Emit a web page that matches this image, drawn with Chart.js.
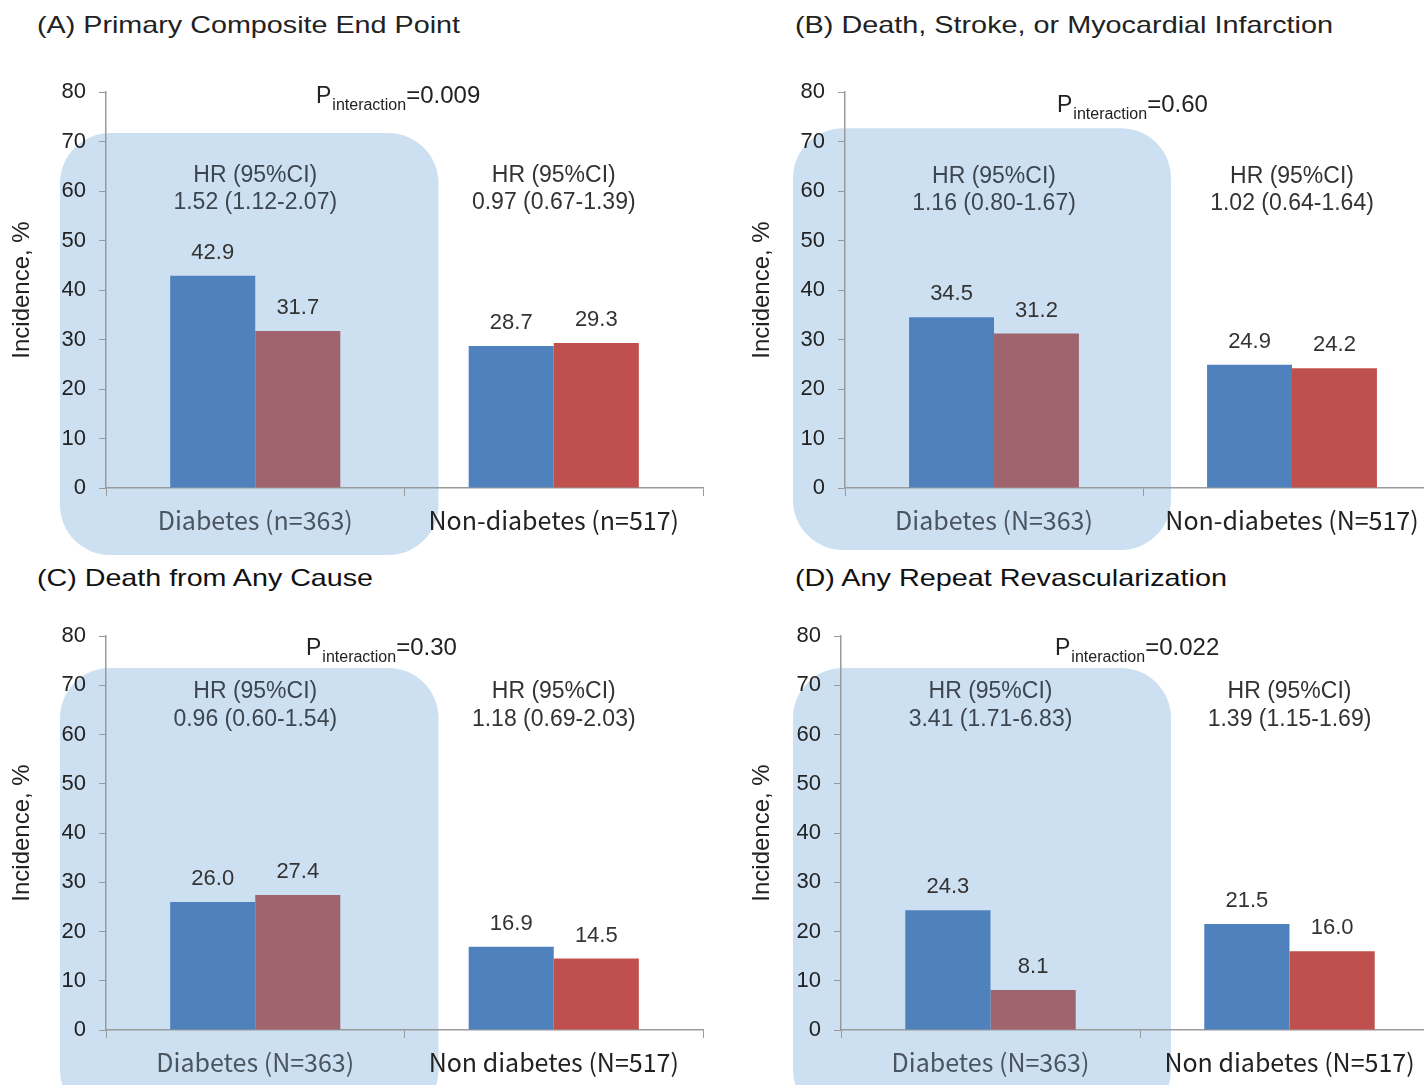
<!DOCTYPE html>
<html><head><meta charset="utf-8">
<script src="https://cdn.jsdelivr.net/npm/chart.js@4/dist/chart.umd.min.js"></script>
<style>
html,body{margin:0;padding:0;background:#fff;width:1424px;height:1085px;overflow:hidden;position:relative}
canvas{position:absolute}
.title{position:absolute;font-family:"Liberation Sans",Arial,sans-serif;font-size:24px;color:#222;white-space:nowrap;transform-origin:0 50%;line-height:24px}
</style></head><body>
<div class="title" id="tA" style="left:37px;top:13px"></div>
<div class="title" id="tB" style="left:795px;top:13px"></div>
<div class="title" id="tC" style="left:37px;top:566px;color:#111"></div>
<div class="title" id="tD" style="left:795px;top:566px;color:#111"></div>
<canvas id="cA" width="740" height="560" style="left:0;top:0"></canvas>
<canvas id="cB" width="720" height="560" style="left:740px;top:0"></canvas>
<canvas id="cC" width="740" height="525" style="left:0;top:560px"></canvas>
<canvas id="cD" width="720" height="525" style="left:740px;top:560px"></canvas>
<script>
// ---- data ----
const titles = ['(A) Primary Composite End Point', '(B) Death, Stroke, or Myocardial Infarction', '(C) Death from Any Cause', '(D) Any Repeat Revascularization'];
const categoriesA = ['Diabetes (n=363)', 'Non-diabetes (n=517)'];
const categoriesB = ['Diabetes (N=363)', 'Non-diabetes (N=517)'];
const categoriesC = ['Diabetes (N=363)', 'Non diabetes (N=517)'];
const categoriesD = ['Diabetes (N=363)', 'Non diabetes (N=517)'];
const seriesNames = ['Group 1', 'Group 2'];
const valuesA1 = [42.9, 28.7];
const valuesA2 = [31.7, 29.3];
const valuesB1 = [34.5, 24.9];
const valuesB2 = [31.2, 24.2];
const valuesC1 = [26.0, 16.9];
const valuesC2 = [27.4, 14.5];
const valuesD1 = [24.3, 21.5];
const valuesD2 = [8.1, 16.0];
const pInteraction = ['0.009', '0.60', '0.30', '0.022'];
const hrHeader = 'HR (95%CI)';
const hrA = ['1.52 (1.12-2.07)', '0.97 (0.67-1.39)'];
const hrB = ['1.16 (0.80-1.67)', '1.02 (0.64-1.64)'];
const hrC = ['0.96 (0.60-1.54)', '1.18 (0.69-2.03)'];
const hrD = ['3.41 (1.71-6.83)', '1.39 (1.15-1.69)'];
const yMin = 0, yMax = 80, yStep = 10;
const yTitle = 'Incidence, %';

// ---- styles ----
const FONT = '"Liberation Sans", Arial, sans-serif';
const BLUE = '#4F81BD', MAUVE = '#A0646F', RED = '#C0504D', HL = '#CDE0F2';
const AXIS = '#9a9a9a';

const titleTargets = [423, 538, 336, 432];
['tA','tB','tC','tD'].forEach((id, i) => {
  const el = document.getElementById(id);
  el.textContent = titles[i];
  const w = el.getBoundingClientRect().width;
  el.style.transform = 'scaleX(' + (titleTargets[i] / w) + ')';
});

function rr(ctx, x0, y0, x1, y1, r) {
  ctx.beginPath();
  ctx.moveTo(x0 + r, y0);
  ctx.lineTo(x1 - r, y0);
  ctx.arcTo(x1, y0, x1, y0 + r, r);
  ctx.lineTo(x1, y1 - r);
  ctx.arcTo(x1, y1, x1 - r, y1, r);
  ctx.lineTo(x0 + r, y1);
  ctx.arcTo(x0, y1, x0, y1 - r, r);
  ctx.lineTo(x0, y0 + r);
  ctx.arcTo(x0, y0, x0 + r, y0, r);
  ctx.closePath();
}

const panelPlugin = {
  id: 'panel',
  beforeDraw(chart, args, o) {
    const {ctx, scales: {x, y}} = chart;
    const boundary = (x.getPixelForValue(0) + x.getPixelForValue(1)) / 2;
    ctx.save();
    ctx.fillStyle = HL;
    rr(ctx, x.left - o.hlLeft, y.getPixelForValue(o.hlTop), boundary + o.hlRight, y.bottom + o.hlBottom, 50);
    ctx.fill();
    ctx.restore();
  },
  afterDatasetsDraw(chart, args, o) {
    const {ctx, scales: {x, y}} = chart;
    ctx.save();
    ctx.fillStyle = '#333';
    ctx.textAlign = 'center';
    ctx.textBaseline = 'middle';
    ctx.font = '22px ' + FONT;
    chart.data.datasets.forEach((ds, di) => {
      const meta = chart.getDatasetMeta(di);
      meta.data.forEach((bar, i) => {
        ctx.fillText(ds.data[i].toFixed(1), bar.x, bar.y - 23);
      });
    });
    // HR annotations
    ctx.font = '23px ' + FONT;
    o.hr.forEach((txt, i) => {
      const cx = x.getPixelForValue(i);
      ctx.fillStyle = i === 0 ? '#3d4650' : '#333';
      ctx.fillText(hrHeader, cx, y.getPixelForValue(o.hr1));
      ctx.fillText(txt, cx, y.getPixelForValue(o.hr2));
    });
    // P interaction
    ctx.fillStyle = '#222';
    ctx.textAlign = 'left';
    ctx.textBaseline = 'alphabetic';
    let px = x.left + o.pX;
    const py = y.getPixelForValue(o.pY);
    ctx.font = '23px ' + FONT;
    ctx.fillText('P', px, py); px += ctx.measureText('P').width + 1;
    ctx.font = '16px ' + FONT;
    ctx.fillText('interaction', px, py + 7); px += ctx.measureText('interaction').width;
    ctx.font = '24px ' + FONT;
    ctx.fillText('=' + o.p, px, py);
    ctx.restore();
  }
};

function makePanel(id, cats, v1, v2, cfg) {
  const c = document.getElementById(id);
  return new Chart(c, {
    type: 'bar',
    data: {
      labels: cats,
      datasets: [
        {label: seriesNames[0], data: v1, backgroundColor: BLUE},
        {label: seriesNames[1], data: v2, backgroundColor: [MAUVE, RED]}
      ]
    },
    options: {
      responsive: false,
      animation: false,
      devicePixelRatio: 1,
      categoryPercentage: 0.57,
      barPercentage: 1.0,
      layout: {padding: {left: 0, top: cfg.padTop, right: cfg.padRight, bottom: cfg.padBottom}},
      plugins: {
        legend: {display: false},
        tooltip: {enabled: false},
        panel: cfg.ann
      },
      scales: {
        x: {
          afterFit: s => { s.height = cfg.xH; },
          grid: {display: true, drawOnChartArea: false, drawTicks: true, tickLength: 8, color: AXIS, offset: true},
          border: {display: true, color: AXIS, width: 1.5},
          ticks: {font: {family: '"Noto Sans CJK KR", "Liberation Sans", sans-serif', size: 25}, color: ['#4b5560', '#222'], padding: 9}
        },
        y: {
          min: yMin, max: yMax,
          afterFit: s => { s.width = cfg.yW; },
          ticks: {stepSize: yStep, font: {family: FONT, size: 22}, color: '#222', padding: 13},
          grid: {display: true, drawOnChartArea: false, drawTicks: true, tickLength: 7, color: AXIS},
          border: {display: true, color: AXIS, width: 1.5},
          title: {display: true, text: yTitle, font: {family: FONT, size: 24}, color: '#222', padding: {top: 8, bottom: 0}}
        }
      }
    },
    plugins: [panelPlugin]
  });
}

makePanel('cA', categoriesA, valuesA1, valuesA2, {
  yW: 106, padTop: 92, padRight: 37, padBottom: 12, xH: 60,
  ann: {hlLeft: 46, hlRight: 34, hlTop: 71.7, hlBottom: 67, hr: hrA, hr1: 63.0, hr2: 57.6, p: pInteraction[0], pX: 210, pY: 77.8}
});
makePanel('cB', categoriesB, valuesB1, valuesB2, {
  yW: 105, padTop: 92, padRight: 19, padBottom: 12, xH: 60,
  ann: {hlLeft: 52, hlRight: 28, hlTop: 72.7, hlBottom: 62, hr: hrB, hr1: 62.8, hr2: 57.4, p: pInteraction[1], pX: 212, pY: 76.0}
});
makePanel('cC', categoriesC, valuesC1, valuesC2, {
  yW: 106, padTop: 76, padRight: 37, padBottom: 5, xH: 50,
  ann: {hlLeft: 46, hlRight: 34, hlTop: 73.5, hlBottom: 90, hr: hrC, hr1: 68.8, hr2: 63.1, p: pInteraction[2], pX: 200, pY: 76.1}
});
makePanel('cD', categoriesD, valuesD1, valuesD2, {
  yW: 101, padTop: 76, padRight: 21, padBottom: 5, xH: 50,
  ann: {hlLeft: 48, hlRight: 31, hlTop: 73.5, hlBottom: 90, hr: hrD, hr1: 68.8, hr2: 63.1, p: pInteraction[3], pX: 214, pY: 76.1}
});
</script>
</body></html>
